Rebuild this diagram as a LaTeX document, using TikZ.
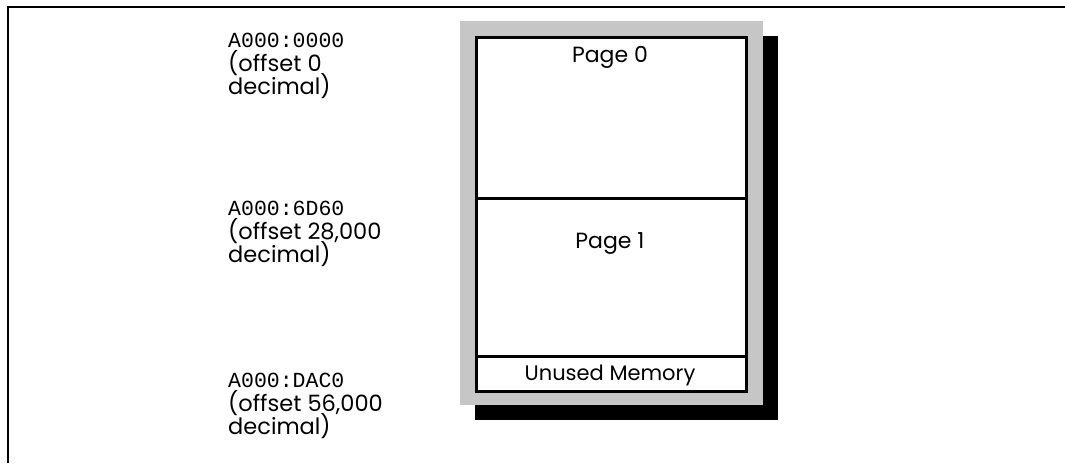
\documentclass[tikz,border=0pt]{standalone}
\usepackage{fontspec}
\setmainfont{Poppins}
\setmonofont{Liberation Mono}
\begin{document}
\begin{tikzpicture}[x=1pt,y=-1pt,
  addr/.style={anchor=base west,inner sep=0pt,font=\ttfamily\fontsize{21.5}{21.5}\selectfont},
  note/.style={anchor=base west,inner sep=0pt,font=\fontsize{22.5}{22}\selectfont},
  pagebox/.style={draw,line width=2.5pt,fill=white,inner sep=0pt},
  ptext/.style={anchor=base,inner sep=0pt,font=\fontsize{22}{22}\selectfont}]
\useasboundingbox (0,0) rectangle (1065,463);
% frame
\draw[line width=1.5pt] (8,463) -- (8,7) -- (1065,7);
% shadow and gray border
\fill[black] (475,36) rectangle (778,420);
\fill[gray!45] (460,21) rectangle (763,405);
% pages
\node[pagebox,minimum width=270pt,minimum height=161pt,anchor=north west] (p0) at (475,36) {};
\node[pagebox,minimum width=270pt,minimum height=158pt,anchor=north west] (p1) at (475,197) {};
\node[pagebox,minimum width=270pt,minimum height=35pt,anchor=north west] (un) at (475,355) {};
\node[ptext] (t0) at (610,62) {Page 0};
\node[ptext] (t1) at (610,248) {Page 1};
\node[ptext,font=\fontsize{21}{21}\selectfont] (tu) at (610,380) {Unused Memory};
% labels
\node[addr] (a0) at (228,47) {A000:0000};
\node[note] (n0a) at (228,71) {(offset 0};
\node[note] (n0b) at (228,94) {decimal)};
\node[addr] (a1) at (228,215) {A000:6D60};
\node[note] (n1a) at (228,239) {(offset 28,000};
\node[note] (n1b) at (228,262) {decimal)};
\node[addr] (a2) at (228,387) {A000:DAC0};
\node[note] (n2a) at (228,411) {(offset 56,000};
\node[note] (n2b) at (228,434) {decimal)};
\end{tikzpicture}
\end{document}
